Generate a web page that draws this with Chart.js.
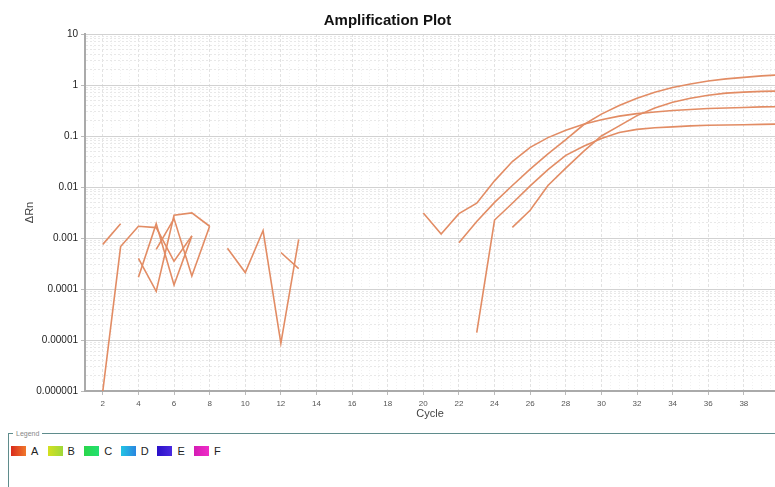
<!DOCTYPE html>
<html>
<head>
<meta charset="utf-8">
<script src="https://cdn.jsdelivr.net/npm/chart.js@4.4.1/dist/chart.umd.min.js"></script>
<style>
    html, body { margin: 0; padding: 0; background: #fff; overflow: hidden; }
    body { width: 775px; height: 487px; position: relative; font-family: "Liberation Sans", Arial, sans-serif; }
    #plot-wrap { position: absolute; left: 0; top: 0; width: 775px; height: 425px; }
    fieldset.legend-box {
        position: absolute; left: 8px; top: 430px; width: 820px; height: 90px;
        margin: 0; padding: 8px 0 0 2px; border: 1px solid #5f8c8c; border-right: none; border-bottom: none;
        box-sizing: border-box;
    }
    fieldset.legend-box legend { font-size: 7px; color: #888; padding: 0 3px; margin-left: 2px; }
    #legend-items { display: flex; }
    .legend-item { display: flex; align-items: center; width: 36.6px; font-size: 11px; color: #222; }
    .legend-item .sw { width: 15px; height: 10px; margin-right: 5px; }
</style>
</head>
<body>
<div id="plot-wrap"><canvas id="ampChart" width="775" height="425"></canvas></div>
<fieldset class="legend-box">
    <legend>Legend</legend>
    <div id="legend-items"></div>
</fieldset>

<script>
// cycle numbers
const cycles = [1, 2, 3, 4, 5, 6, 7, 8, 9, 10, 11, 12, 13, 14, 15, 16, 17, 18, 19, 20,
                21, 22, 23, 24, 25, 26, 27, 28, 29, 30, 31, 32, 33, 34, 35, 36, 37, 38, 39, 40];

// delta Rn per well (null = not plotted on log scale)
const well1 = [null, 0.00075, 0.0019, null, null, null, null, null, 0.00063, 0.00021,
               0.0014, 0.0000086, 0.00094, null, null, null, null, null, null, 0.0031,
               0.0012, 0.0030, 0.0048, 0.0132, 0.0316, 0.060, 0.093, 0.129, 0.170, 0.209,
               0.245, 0.275, 0.295, 0.316, 0.331, 0.347, 0.355, 0.363, 0.372, 0.376];
const well2 = [null, 0.000001, 0.00068, 0.0017, 0.0016, 0.00035, 0.0011, null, null, null,
               null, 0.00052, 0.00025, null, null, null, null, null, null, null,
               null, 0.00081, 0.0021, 0.0050, 0.0107, 0.0224, 0.0447, 0.085, 0.166, 0.269,
               0.398, 0.55, 0.724, 0.89, 1.05, 1.20, 1.32, 1.41, 1.51, 1.58];
const well3 = [null, null, null, 0.0004, 0.00009, 0.0028, 0.0031, 0.0017, null, null,
               null, null, null, null, null, null, null, null, null, null,
               null, null, 0.0000139, 0.00225, 0.0048, 0.0105, 0.0219, 0.0417, 0.063, 0.089,
               0.117, 0.135, 0.145, 0.151, 0.158, 0.162, 0.164, 0.166, 0.169, 0.172];
const well4 = [null, null, null, 0.00017, 0.0019, 0.00012, 0.0011, null, null, null,
               null, null, null, null, null, null, null, null, null, null,
               null, null, null, null, 0.00162, 0.0035, 0.0107, 0.0234, 0.050, 0.100,
               0.158, 0.251, 0.355, 0.457, 0.55, 0.631, 0.692, 0.724, 0.75, 0.76];
const well5 = [null, null, null, null, 0.0006, 0.0024, 0.00018, 0.0017, null, null,
               null, null, null, null, null, null, null, null, null, null,
               null, null, null, null, null, null, null, null, null, null,
               null, null, null, null, null, null, null, null, null, null];

const xTicks = [2, 4, 6, 8, 10, 12, 14, 16, 18, 20, 22, 24, 26, 28, 30, 32, 34, 36, 38];
const yDecades = [0.000001, 0.00001, 0.0001, 0.001, 0.01, 0.1, 1, 10];
const yLabels = ["0.000001", "0.00001", "0.0001", "0.001", "0.01", "0.1", "1", "10"];

const legendNames = ["A", "B", "C", "D", "E", "F"];
const legendColors = [
    ["#d92b1c", "#f0782c"],
    ["#d4e020", "#9ed83a"],
    ["#2bd64a", "#22e070"],
    ["#22c4e4", "#2a86e0"],
    ["#2a10c8", "#4a2ae0"],
    ["#d41cb4", "#f02cc8"]
];

const LINE_COLOR = "rgb(226, 140, 100)";

document.getElementById("legend-items").innerHTML = legendNames.map((n, i) =>
    `<span class="legend-item"><span class="sw" style="background: linear-gradient(90deg, ${legendColors[i][0]}, ${legendColors[i][1]});"></span>${n}</span>`
).join("");

function toPoints(values) {
    return cycles.map((c, i) => ({ x: c, y: values[i] }));
}

const wells = [well1, well2, well3, well4, well5];

// grid positions: labelled even cycles plus half-cycle minor lines
function xGridValues() {
    const out = [];
    for (let v = 1; v < 39.75; v += 0.5) out.push(v);
    return out;
}
const isMajorX = v => xTicks.includes(v);

// minor log ticks between decades
function logTickValues() {
    const out = [];
    for (let d = 0; d < yDecades.length - 1; d++) {
        for (let m = 1; m <= 9; m++) out.push(yDecades[d] * m);
    }
    out.push(yDecades[yDecades.length - 1]);
    return out;
}
const isDecade = v => yDecades.some(d => Math.abs(v / d - 1) < 1e-6);

const ctx = document.getElementById("ampChart").getContext("2d");
new Chart(ctx, {
    type: "line",
    data: {
        datasets: wells.map((w, i) => ({
            label: "Well " + (i + 1),
            data: toPoints(w),
            borderColor: LINE_COLOR,
            borderWidth: 1.6,
            pointRadius: 0,
            tension: 0,
            spanGaps: false,
            fill: false
        }))
    },
    options: {
        responsive: false,
        animation: false,
        layout: { padding: 0 },
        plugins: {
            legend: { display: false },
            tooltip: { enabled: false },
            title: {
                display: true,
                text: "Amplification Plot",
                color: "#111",
                font: { family: "Liberation Sans", size: 15, weight: "bold" },
                padding: { top: 12, bottom: 4 }
            }
        },
        scales: {
            x: {
                type: "linear",
                min: 1,
                max: 39.75,
                afterBuildTicks: scale => { scale.ticks = xGridValues().map(v => ({ value: v })); },
                afterFit: scale => { scale.height = 34; },
                ticks: {
                    color: "#555",
                    font: { family: "Liberation Sans", size: 8 },
                    maxRotation: 0,
                    autoSkip: false,
                    padding: 4,
                    callback: v => isMajorX(v) ? String(v) : ""
                },
                grid: {
                    color: c => (c.tick && isMajorX(c.tick.value)) ? "#e2e2e2" : "#f1f1f1",
                    lineWidth: 1,
                    tickLength: 4,
                    tickColor: c => (c.tick && isMajorX(c.tick.value)) ? "#bbb" : "rgba(0,0,0,0)"
                },
                border: { color: "#aaa", width: 2, dash: c => (c.tick && isMajorX(c.tick.value)) ? [3, 2] : [1, 2] },
                title: {
                    display: true,
                    text: "Cycle",
                    color: "#444",
                    font: { family: "Liberation Sans", size: 11 },
                    padding: { top: 0, bottom: 4 }
                }
            },
            y: {
                type: "logarithmic",
                min: 0.000001,
                max: 10,
                afterBuildTicks: scale => { scale.ticks = logTickValues().map(v => ({ value: v })); },
                afterFit: scale => { scale.width = 85; },
                ticks: {
                    color: "#222",
                    font: { family: "Liberation Sans", size: 10 },
                    padding: 3,
                    autoSkip: false,
                    callback: function (v) {
                        const k = yDecades.findIndex(d => Math.abs(v / d - 1) < 1e-6);
                        return k >= 0 ? yLabels[k] : "";
                    }
                },
                grid: {
                    color: c => (c.tick && isDecade(c.tick.value)) ? "#d2d2d2" : "#e8e8e8",
                    lineWidth: 1,
                    tickLength: 4,
                    tickColor: c => (c.tick && isDecade(c.tick.value)) ? "#bbb" : "rgba(0,0,0,0)"
                },
                border: { color: "#aaa", width: 2, dash: c => (c.tick && isDecade(c.tick.value)) ? [] : [2, 2] },
                title: {
                    display: true,
                    text: "ΔRn",
                    color: "#444",
                    font: { family: "Liberation Sans", size: 11 },
                    padding: { top: 23, bottom: 0 }
                }
            }
        }
    }
});
</script>
</body>
</html>
